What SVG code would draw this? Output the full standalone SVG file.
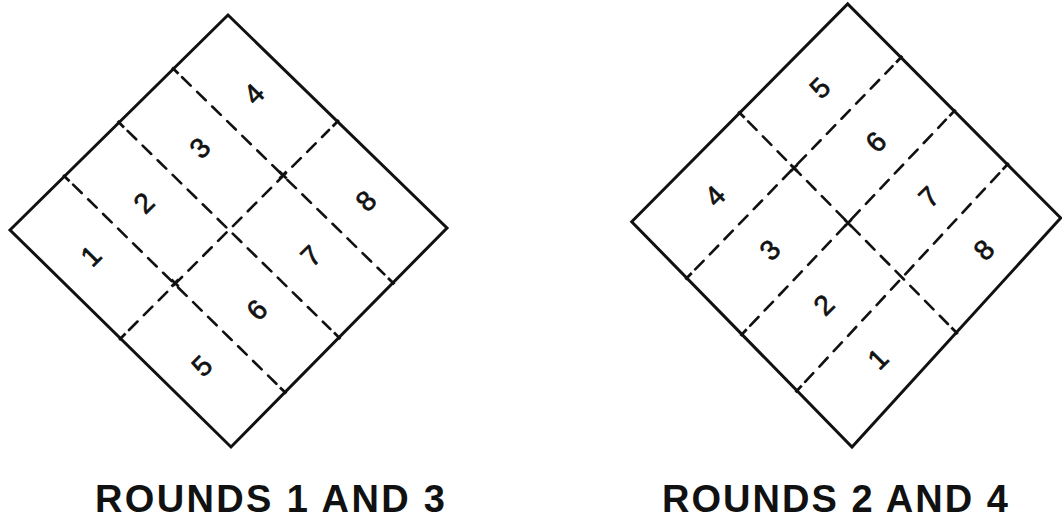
<svg xmlns="http://www.w3.org/2000/svg" width="1062" height="519" viewBox="0 0 1062 519">
<style>
.edge{fill:none;stroke:#111;stroke-width:3;stroke-linejoin:miter}
.dash{fill:none;stroke:#111;stroke-width:2.6;stroke-dasharray:12 9;stroke-linecap:round}
.tick{fill:none;stroke:#111;stroke-width:2.8;stroke-linecap:butt}
.num{font-family:"Liberation Sans",Arial,sans-serif;font-size:28px;fill:#111;stroke:#111;stroke-width:0.7;text-anchor:middle;dominant-baseline:central}
.cap{font-family:"Liberation Sans",Arial,sans-serif;font-size:38px;font-weight:bold;fill:#111}
</style>
<rect width="1062" height="519" fill="#fff"/>

<g id="left-diagram">
  <polygon class="edge" points="10,230 228,15 447,228 231,447"/>
  <g id="left-connectors">
    <path class="dash" d="M73.1,184.6 L276.4,383.8"/>
    <path class="dash" d="M127.6,130.9 L330.4,329.1"/>
    <path class="dash" d="M182.1,77.2 L384.4,274.4"/>
    <path class="dash" d="M129,330 L329,130"/>
    <path class="tick" d="M63.1,174.9 L69.5,181.2 M286.4,393.6 L280,387.4 M117.6,121.1 L124,127.4 M340.4,338.9 L334,332.6 M172.1,67.4 L178.5,73.7 M394.4,284.2 L388,277.9 M119.1,339.9 L125.5,333.6 M338.9,120.1 L332.6,126.5"/>
    <path class="tick" d="M279.4,171.5 L286.6,178.5 M279.5,178.5 L286.5,171.5 M171.4,279.5 L178.6,286.5 M171.5,286.5 L178.5,279.5"/>
  </g>
  <g id="left-cell-1"><text class="num" x="91" y="256" transform="rotate(-45 91 256)">1</text></g>
  <g id="left-cell-2"><text class="num" x="144" y="203" transform="rotate(-45 144 203)">2</text></g>
  <g id="left-cell-3"><text class="num" x="200" y="148" transform="rotate(-45 200 148)">3</text></g>
  <g id="left-cell-4"><text class="num" x="254" y="94" transform="rotate(-45 254 94)">4</text></g>
  <g id="left-cell-5"><text class="num" x="202" y="366" transform="rotate(-45 202 366)">5</text></g>
  <g id="left-cell-6"><text class="num" x="257" y="310" transform="rotate(-45 257 310)">6</text></g>
  <g id="left-cell-7"><text class="num" x="311" y="256" transform="rotate(-45 311 256)">7</text></g>
  <g id="left-cell-8"><text class="num" x="366" y="201" transform="rotate(-45 366 201)">8</text></g>
  <g id="left-caption"><text class="cap" x="95" y="512" textLength="350" lengthAdjust="spacing">ROUNDS 1 AND 3</text></g>
</g>

<g id="right-diagram">
  <polygon class="edge" points="631.7,221.7 847.7,4 1060.7,218 852,447"/>
  <g id="right-connectors">
    <path class="dash" d="M695.2,269.4 L892.6,66.1"/>
    <path class="dash" d="M750.2,325.7 L945.9,119.7"/>
    <path class="dash" d="M805.1,381.9 L999.2,173.3"/>
    <path class="dash" d="M748.1,121.4 L947.9,324"/>
    <path class="tick" d="M685.4,279.4 L691.7,273 M902.4,56.1 L896.1,62.5 M740.5,335.9 L746.7,329.3 M955.6,109.6 L949.4,116.1 M795.5,392.2 L801.7,385.6 M1008.8,163 L1002.6,169.6 M738.3,111.4 L744.6,117.8 M957.8,333.9 L951.4,327.5"/>
    <path class="tick" d="M790.5,171.5 L797.5,164.5 M790.5,164.5 L797.5,171.5 M844.5,226.5 L851.5,219.5 M844.5,219.5 L851.5,226.5"/>
  </g>
  <g id="right-cell-4"><text class="num" x="715" y="196" transform="rotate(-45 715 196)">4</text></g>
  <g id="right-cell-3"><text class="num" x="770" y="250" transform="rotate(-45 770 250)">3</text></g>
  <g id="right-cell-2"><text class="num" x="824" y="305" transform="rotate(-45 824 305)">2</text></g>
  <g id="right-cell-1"><text class="num" x="878" y="359" transform="rotate(-45 878 359)">1</text></g>
  <g id="right-cell-5"><text class="num" x="820" y="88" transform="rotate(-45 820 88)">5</text></g>
  <g id="right-cell-6"><text class="num" x="876" y="142" transform="rotate(-45 876 142)">6</text></g>
  <g id="right-cell-7"><text class="num" x="929" y="197" transform="rotate(-45 929 197)">7</text></g>
  <g id="right-cell-8"><text class="num" x="984" y="250" transform="rotate(-45 984 250)">8</text></g>
  <g id="right-caption"><text class="cap" x="662" y="512" textLength="346" lengthAdjust="spacing">ROUNDS 2 AND 4</text></g>
</g>
</svg>
